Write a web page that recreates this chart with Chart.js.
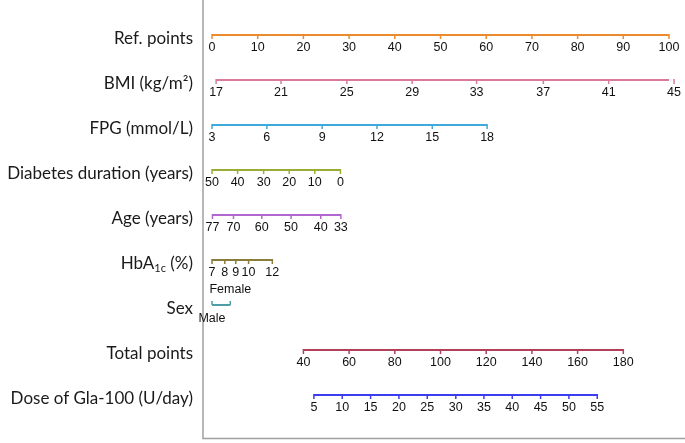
<!DOCTYPE html>
<html>
<head>
<meta charset="utf-8">
<script src="https://cdn.jsdelivr.net/npm/chart.js@4.4.1/dist/chart.umd.min.js"></script>
<style>
    html, body { margin: 0; padding: 0; background: #fff; }
    canvas { display: block; }
</style>
</head>
<body>
<canvas id="Nomograma" width="685" height="443" style="width:685px; height:443px;"></canvas>
<script>
// nomes das linhas do nomograma (de cima para baixo)
var linhas = ["Ref. points", "BMI (kg/m²)", "FPG (mmol/L)", "Diabetes duration (years)", "Age (years)", "HbA1c (%)", "Sex", "Total points", "Dose of Gla-100 (U/day)"];

// rotulos e posicoes (em pontos de referencia 0-100)
var refTicks = [0, 10, 20, 30, 40, 50, 60, 70, 80, 90, 100];
var refPontos = [0, 10, 20, 30, 40, 50, 60, 70, 80, 90, 100];
var imcTicks = [17, 21, 25, 29, 33, 37, 41, 45];
var imcPontos = [0.9, 15.1, 29.5, 43.8, 57.9, 72.5, 86.8, 101.1];
var fpgTicks = [3, 6, 9, 12, 15, 18];
var fpgPontos = [0, 12.0, 24.1, 36.1, 48.2, 60.2];
var duracaoTicks = [50, 40, 30, 20, 10, 0];
var duracaoPontos = [0, 5.6, 11.3, 16.9, 22.5, 28.1];
var idadeTicks = [77, 70, 60, 50, 40, 33];
var idadePontos = [0.1, 4.7, 10.9, 17.3, 23.8, 28.2];
var hbaTicks = [7, 8, 9, 10, 12];
var hbaPontos = [0, 2.8, 5.2, 8.0, 13.2];
var sexoTicks = ["Male", "Female"];
var sexoPontos = [0, 4.0];

// pontos totais (escala 0-200) e dose
var totalTicks = [40, 60, 80, 100, 120, 140, 160, 180];
var totalPontos = [40, 60, 80, 100, 120, 140, 160, 180];
var doseTicks = [5, 10, 15, 20, 25, 30, 35, 40, 45, 50, 55];
var dosePontos = [44.6, 57.0, 69.4, 81.8, 94.2, 106.7, 119.0, 131.4, 143.8, 156.2, 168.6];

var cores = ["#ec8a2e", "#d9799c", "#3eaadc", "#98ad35", "#b266cf", "#8a7d3c", "#4f9ea6", "#b2405a", "#3c3cf0"];

function MontarLinha(indice, ticks, pontos, eixo) {
    return {
        label: linhas[indice],
        xAxisID: eixo,
        data: pontos.map(function (p) { return { x: p, y: indice }; }),
        rotulos: ticks,
        borderColor: cores[indice],
        backgroundColor: cores[indice],
        borderWidth: 2,
        pointRadius: 0,
        showLine: true
    };
}

var fonteTick = "12.5px 'Liberation Sans', Arial, sans-serif";
var fonteLinha = "17px Lato, 'Open Sans', sans-serif";

// desenha os tracos, rotulos das escalas, nomes das linhas e a moldura
var pluginEscalas = {
    id: 'escalas',
    afterDatasetsDraw: function (chart) {
        var ctx = chart.ctx;
        var escalaY = chart.scales.y;
        ctx.save();

        // moldura
        ctx.strokeStyle = "#a0a0a0";
        ctx.lineWidth = 1.5;
        ctx.beginPath();
        ctx.moveTo(203, 0);
        ctx.lineTo(203, 438.5);
        ctx.lineTo(685, 438.5);
        ctx.stroke();

        chart.data.datasets.forEach(function (ds, i) {
            var meta = chart.getDatasetMeta(i);
            var sexo = (i === 6);
            ctx.strokeStyle = ds.borderColor;
            ctx.lineWidth = 1.5;
            ctx.font = fonteTick;
            ctx.fillStyle = "#111";
            ctx.textAlign = "center";
            ctx.textBaseline = "middle";
            meta.data.forEach(function (pt, j) {
                ctx.beginPath();
                if (sexo) {
                    ctx.moveTo(pt.x, pt.y);
                    ctx.lineTo(pt.x, pt.y - 4);
                } else {
                    ctx.moveTo(pt.x, pt.y - 1);
                    ctx.lineTo(pt.x, pt.y + 4);
                }
                ctx.stroke();
                if (sexo) {
                    if (j === 0) ctx.fillText(ds.rotulos[j], pt.x, pt.y + 14);
                    else ctx.fillText(ds.rotulos[j], pt.x, pt.y - 15);
                } else {
                    ctx.fillText(ds.rotulos[j], pt.x, pt.y + 12.5);
                }
            });

            // nome da linha
            var y = escalaY.getPixelForValue(i) + 4;
            ctx.fillStyle = "#1a1a1a";
            ctx.font = fonteLinha;
            ctx.textAlign = "right";
            var xd = 193;
            if (i === 5) {
                // HbA1c com subscrito
                var resto = " (%)";
                var wResto = ctx.measureText(resto).width;
                ctx.fillText(resto, xd, y);
                ctx.font = "11px Lato, 'Open Sans', sans-serif";
                var sub = "1c";
                var wSub = ctx.measureText(sub).width;
                ctx.fillText(sub, xd - wResto, y + 4);
                ctx.font = fonteLinha;
                ctx.fillText("HbA", xd - wResto - wSub, y);
            } else {
                ctx.fillText(linhas[i], xd, y);
            }
        });
        ctx.restore();
    }
};

var ctx = document.getElementById('Nomograma').getContext('2d');

var grafico = new Chart(ctx, {
    type: 'line',
    data: {
        datasets: [
            MontarLinha(0, refTicks, refPontos, 'x'),
            MontarLinha(1, imcTicks, imcPontos, 'x'),
            MontarLinha(2, fpgTicks, fpgPontos, 'x'),
            MontarLinha(3, duracaoTicks, duracaoPontos, 'x'),
            MontarLinha(4, idadeTicks, idadePontos, 'x'),
            MontarLinha(5, hbaTicks, hbaPontos, 'x'),
            MontarLinha(6, sexoTicks, sexoPontos, 'x'),
            MontarLinha(7, totalTicks, totalPontos, 'x2'),
            MontarLinha(8, doseTicks, dosePontos, 'x2')
        ]
    },
    options: {
        responsive: false,
        animation: false,
        layout: { padding: { left: 212, right: 16, top: 0, bottom: 4 } },
        plugins: {
            legend: { display: false },
            tooltip: { enabled: false }
        },
        scales: {
            x: { type: 'linear', min: 0, max: 100, display: false },
            x2: { type: 'linear', min: 0, max: 200, display: false },
            y: { type: 'linear', min: -0.778, max: 8.978, reverse: true, display: false }
        }
    },
    plugins: [pluginEscalas]
});
</script>
</body>
</html>
